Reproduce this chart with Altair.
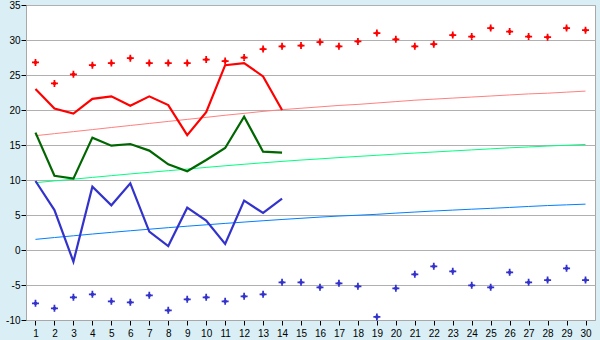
import altair as alt
import pandas as pd

days = list(range(1, 31))

# thick daily lines (days 1-14)
max_line = [23.0, 20.2, 19.5, 21.6, 21.95, 20.6, 21.95, 20.7, 16.4, 19.7, 26.4, 26.7, 24.8, 20.0]
mean_line = [16.76, 10.6, 10.2, 16.05, 14.9, 15.14, 14.2, 12.24, 11.25, 12.86, 14.57, 19.05, 14.05, 13.9]
min_line = [9.86, 5.71, -1.67, 9.05, 6.38, 9.52, 2.62, 0.57, 6.05, 4.19, 0.86, 7.05, 5.29, 7.33]

# thin normal lines (days 1-30)
max_norm = [16.33, 16.62, 16.91, 17.2, 17.5, 17.79, 18.08, 18.37, 18.66, 18.95,
            19.25, 19.52, 19.8, 20.05, 20.25, 20.45, 20.65, 20.8, 21.0, 21.2,
            21.4, 21.55, 21.7, 21.85, 22.0, 22.15, 22.3, 22.4, 22.55, 22.7]
mean_norm = [9.62, 9.87, 10.12, 10.37, 10.62, 10.87, 11.1, 11.33, 11.56, 11.8,
             12.03, 12.25, 12.46, 12.66, 12.85, 13.02, 13.2, 13.37, 13.53, 13.7,
             13.85, 14.0, 14.15, 14.3, 14.45, 14.6, 14.72, 14.85, 14.97, 15.08]
min_norm = [1.52, 1.78, 2.03, 2.28, 2.52, 2.75, 2.97, 3.19, 3.4, 3.6,
            3.8, 3.99, 4.18, 4.36, 4.53, 4.7, 4.85, 4.97, 5.1, 5.27,
            5.42, 5.57, 5.7, 5.83, 5.95, 6.08, 6.22, 6.35, 6.45, 6.55]

# record markers (days 1-30)
max_rec = [26.8, 23.8, 25.1, 26.4, 26.7, 27.4, 26.7, 26.7, 26.7, 27.2,
           27.0, 27.5, 28.7, 29.1, 29.2, 29.7, 29.1, 29.8, 31.0, 30.1,
           29.1, 29.4, 30.7, 30.5, 31.7, 31.2, 30.5, 30.4, 31.7, 31.4]
min_rec = [-7.62, -8.33, -6.76, -6.33, -7.33, -7.48, -6.48, -8.62, -7.05, -6.76,
           -7.33, -6.62, -6.33, -4.62, -4.62, -5.33, -4.76, -5.19, -9.57, -5.48,
           -3.48, -2.33, -3.05, -5.05, -5.33, -3.19, -4.62, -4.29, -2.62, -4.29]

thin_names = ["max_norm", "mean_norm", "min_norm"]
thin_colors = ["#ff8080", "#00ff80", "#0080ff"]
thick_names = ["max", "mean", "min"]
thick_colors = ["#ff0000", "#006600", "#3333cc"]
rec_names = ["max_rec", "min_rec"]
rec_colors = ["#ff0000", "#3333cc"]

def long(name, vals):
    return pd.DataFrame({"day": days[:len(vals)], "value": vals, "series": name})

thin_df = pd.concat([long("max_norm", max_norm), long("mean_norm", mean_norm), long("min_norm", min_norm)])
thick_df = pd.concat([long("max", max_line), long("mean", mean_line), long("min", min_line)])
rec_df = pd.concat([long("max_rec", max_rec), long("min_rec", min_rec)])

x = alt.X("day:O", scale=alt.Scale(type="point", padding=0.5, domain=days),
          axis=alt.Axis(title=None, labelAngle=0, tickSize=5, tickColor="#000000",
                        domainColor="#a8a8a8", labelPadding=3, grid=False,
                        labelFont="Liberation Sans", labelFontSize=10, labelColor="#000000"))
y = alt.Y("value:Q", scale=alt.Scale(domain=[-10, 35], nice=False, zero=False),
          axis=alt.Axis(title=None, values=list(range(-10, 36, 5)), tickSize=5,
                        tickColor="#000000", domainColor="#a8a8a8", gridColor="#b0b0b0",
                        labelPadding=1, labelFont="Liberation Sans", labelFontSize=10,
                        labelColor="#000000", labelExpr="'' + datum.value"))

thin = alt.Chart(thin_df).mark_line(strokeWidth=1, interpolate="linear").encode(
    x=x, y=y,
    color=alt.Color("series:N", scale=alt.Scale(domain=thin_names, range=thin_colors), legend=None),
    detail="series:N",
)
thick = alt.Chart(thick_df).mark_line(strokeWidth=2.2).encode(
    x=x, y=y,
    color=alt.Color("series:N", scale=alt.Scale(domain=thick_names, range=thick_colors), legend=None),
    detail="series:N",
)
marker_shape = ("M0,-0.75L0.75,0L0,0.75L-0.75,0Z "
                "M-0.25,-1L0.25,-1L0.25,-0.25L1,-0.25L1,0.25L0.25,0.25L0.25,1L-0.25,1"
                "L-0.25,0.25L-1,0.25L-1,-0.25L-0.25,-0.25Z")
recs = alt.Chart(rec_df).mark_point(shape=marker_shape, filled=True, size=49, opacity=1).encode(
    x=x, y=y,
    color=alt.Color("series:N", scale=alt.Scale(domain=rec_names, range=rec_colors), legend=None),
)

chart = alt.layer(thin, thick, recs).resolve_scale(color="independent").properties(
    width=569, height=315,
    background="#d9eff5",
    padding={"left": 26, "top": 5, "right": 5, "bottom": 20},
    autosize=alt.AutoSizeParams(type="none"),
).configure_view(fill="#ffffff", stroke="#a8a8a8", strokeWidth=1)

chart.save("out.html", embed_options={"renderer": "svg", "actions": False})
